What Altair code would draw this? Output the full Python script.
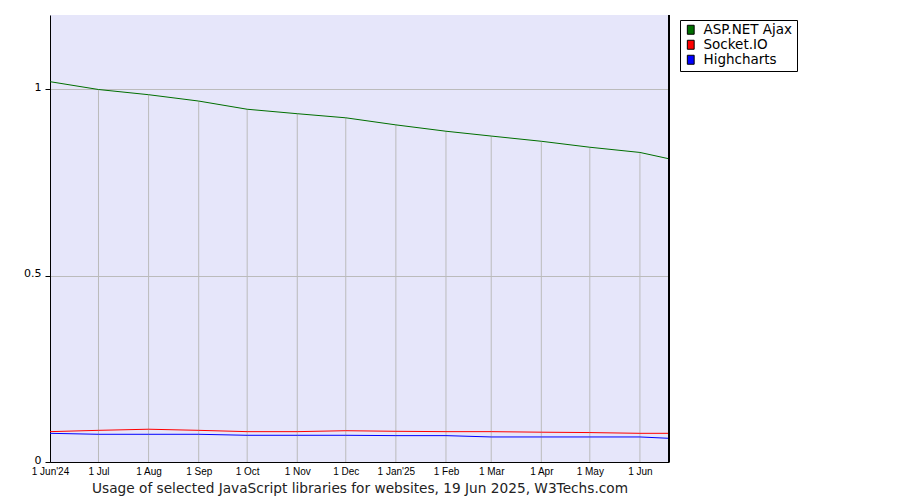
import json
import altair as alt
import pandas as pd

# ---- data ----
dates = ["2024-06-01", "2024-07-01", "2024-08-01", "2024-09-01", "2024-10-01",
         "2024-11-01", "2024-12-01", "2025-01-01", "2025-02-01", "2025-03-01",
         "2025-04-01", "2025-05-01", "2025-06-01", "2025-06-19"]
asp_net_ajax = [1.021, 1.000, 0.986, 0.969, 0.947, 0.935, 0.924, 0.905, 0.888,
                0.875, 0.861, 0.845, 0.831, 0.814]
socket_io = [0.0815, 0.085, 0.088, 0.085, 0.0815, 0.0815, 0.084, 0.0824, 0.0815,
             0.0815, 0.080, 0.079, 0.077, 0.077]
highcharts = [0.077, 0.0744, 0.0744, 0.0744, 0.0717, 0.0717, 0.0717, 0.0708,
              0.0708, 0.0672, 0.0672, 0.0672, 0.0672, 0.0636]
series = ["ASP.NET Ajax", "Socket.IO", "Highcharts"]
colors = ["#006f00", "#ff0000", "#0000ff"]
tick_labels = ["1 Jun'24", "1 Jul", "1 Aug", "1 Sep", "1 Oct", "1 Nov", "1 Dec",
               "1 Jan'25", "1 Feb", "1 Mar", "1 Apr", "1 May", "1 Jun"]
y_ticks = [0, 0.5, 1]
title_text = "Usage of selected JavaScript libraries for websites, 19 Jun 2025, W3Techs.com"

ms = [int(pd.Timestamp(d, tz="UTC").value // 10**6) for d in dates]
tick_ms = ms[:-1]

rows = []
for name, col, vals in zip(series, colors, [asp_net_ajax, socket_io, highcharts]):
    for t, v in zip(ms, vals):
        rows.append({"t": t, "v": v, "s": name, "c": col})
df = pd.DataFrame(rows)
drops = pd.DataFrame({"t": tick_ms[1:], "v": asp_net_ajax[1:len(tick_ms)]})

W, H = 619, 447

label_expr = f"{json.dumps(tick_labels)}[indexof({json.dumps(tick_ms)}, time(datum.value))]"

xscale = alt.Scale(type="utc", domain=[ms[0], ms[-1]], nice=False)
yscale = alt.Scale(domain=[0, 1.2], nice=False)

xaxis = alt.Axis(values=tick_ms, labelExpr=label_expr, ticks=False, grid=False,
                 domainColor="black", labelFont="Liberation Sans", labelFontSize=10,
                 labelColor="black", labelPadding=4, labelOverlap=False, labelFlush=False,
                 title=title_text, titleFont="DejaVu Sans", titleFontSize=13.7,
                 titleFontWeight="normal", titleColor="#222222", titlePadding=5)
yaxis = alt.Axis(values=y_ticks, labelExpr="datum.value == 0 ? '0' : format(datum.value, '~g')",
                 grid=True, gridColor="#bbbbbb", domainColor="black", tickColor="black",
                 tickSize=5, labelFont="DejaVu Sans", labelFontSize=11, labelColor="black",
                 labelPadding=4, labelOffset=-2, title=None)

drop_rules = alt.Chart(drops).mark_rule(color="#bbbbbb", strokeWidth=1).encode(
    x=alt.X("t:T", scale=xscale, axis=xaxis),
    y=alt.Y("v:Q", scale=yscale, axis=yaxis),
    y2=alt.datum(0),
)

lines = alt.Chart(df).mark_line(strokeWidth=1).encode(
    x=alt.X("t:T", scale=xscale),
    y=alt.Y("v:Q", scale=yscale),
    stroke=alt.Stroke("c:N", scale=None),
    detail="s:N",
)

legend_layer = alt.Chart(df).mark_square(opacity=0).encode(
    x=alt.X("t:T", scale=xscale),
    y=alt.Y("v:Q", scale=yscale),
    fill=alt.Fill("s:N", scale=alt.Scale(domain=series, range=colors),
                  legend=alt.Legend(title=None, orient="none", legendX=630, legendY=5,
                                    symbolType="M-0.76,-1H0.76V1H-0.76Z",
                                    symbolSize=81, symbolStrokeColor="black",
                                    symbolStrokeWidth=1, symbolOpacity=1,
                                    labelFont="DejaVu Sans",
                                    labelFontSize=13.5, labelColor="black",
                                    labelOffset=6, padding=4, rowPadding=0,
                                    clipHeight=11.5,
                                    strokeColor="black", fillColor="white")),
)

right_border = alt.Chart(df).mark_rule(color="black", strokeWidth=1).encode(
    x=alt.value(W), y=alt.value(0), y2=alt.value(H)
)

chart = alt.layer(drop_rules, lines, legend_layer, right_border).properties(
    width=W, height=H,
    autosize=alt.AutoSizeParams(type="none"),
    padding={"left": 42, "top": 7, "right": 220, "bottom": 38},
).configure_view(fill="#e6e6fa", strokeWidth=0).configure_legend(strokeWidth=1)

chart.save("out.html", embed_options={"renderer": "svg", "actions": False})
